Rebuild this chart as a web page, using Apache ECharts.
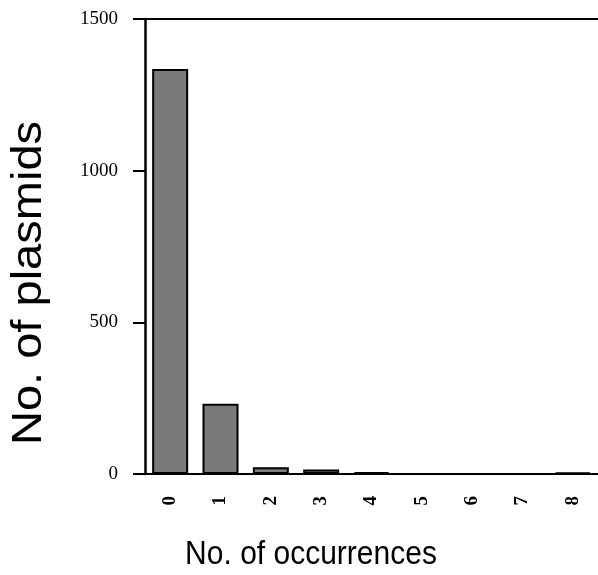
<!DOCTYPE html>
<html>
<head>
<meta charset="utf-8">
<script src="https://cdn.jsdelivr.net/npm/echarts@6/dist/echarts.min.js"></script>
<style>
  html, body { margin: 0; padding: 0; background: #fff; }
  #chart-container { width: 598px; height: 575px; }
</style>
</head>
<body>
<div id="chart-container"></div>
<script>
var dom = document.getElementById("chart-container");
var myChart = echarts.init(dom, null, { renderer: "canvas" });

// occurrences per plasmid (x categories) and plasmid counts
const occurrences = ["0", "1", "2", "3", "4", "5", "6", "7", "8"];
const plasmids = [1335, 232, 22, 15, 6, 0, 0, 0, 5];
const yTicks = [0, 500, 1000, 1500];

var serif = "Liberation Serif";
var sans = "Liberation Sans";

var option = {
  animation: false,
  grid: {
    left: 145,
    top: 19,
    width: 457,
    height: 455,
  },
  xAxis: [
    {
      type: "category",
      data: occurrences,
      axisLine: { lineStyle: { color: "#000", width: 2 } },
      axisTick: { show: false },
      axisLabel: { show: false },
    },
    {
      type: "category",
      data: occurrences,
      position: "bottom",
      offset: 6,
      axisLine: { show: false },
      axisTick: {
        alignWithLabel: true,
        length: 7,
        lineStyle: { color: "#000", width: 2 },
      },
      axisLabel: {
        rotate: 90,
        margin: 16,
        fontFamily: serif,
        fontSize: 19,
        fontWeight: "bold",
        color: "#000",
      },
    },
    {
      // top frame line
      type: "category",
      data: occurrences,
      position: "top",
      axisLine: { lineStyle: { color: "#000", width: 2 } },
      axisTick: { show: false },
      axisLabel: { show: false },
    },
  ],
  yAxis: {
    type: "value",
    min: yTicks[0],
    max: yTicks[yTicks.length - 1],
    interval: 500,
    axisLine: { show: true, lineStyle: { color: "#000", width: 2.5 } },
    axisTick: { show: true, length: 12, lineStyle: { color: "#000", width: 2 } },
    splitLine: { show: false },
    axisLabel: {
      margin: 27,
      fontFamily: serif,
      fontSize: 19,
      color: "#000",
      formatter: function (v) {
        return String(v);
      },
    },
  },
  graphic: [
    {
      type: "text",
      x: 29,
      y: 283,
      rotation: Math.PI / 2,
      scaleX: 1.12,
      style: {
        text: "No. of plasmids",
        font: "42px " + sans,
        fill: "#000",
        textAlign: "center",
        textVerticalAlign: "middle",
      },
    },
    {
      type: "text",
      x: 311,
      y: 555,
      scaleY: 1.12,
      style: {
        text: "No. of occurrences",
        font: "30px " + sans,
        fill: "#000",
        textAlign: "center",
        textVerticalAlign: "middle",
      },
    },
  ],
  series: [
    {
      type: "bar",
      xAxisIndex: 0,
      data: plasmids,
      barWidth: 36,
      itemStyle: {
        color: "#7a7a7a",
        borderColor: "#000",
        borderWidth: 2,
      },
    },
  ],
};

myChart.setOption(option);
window.addEventListener("resize", myChart.resize);
</script>
</body>
</html>
